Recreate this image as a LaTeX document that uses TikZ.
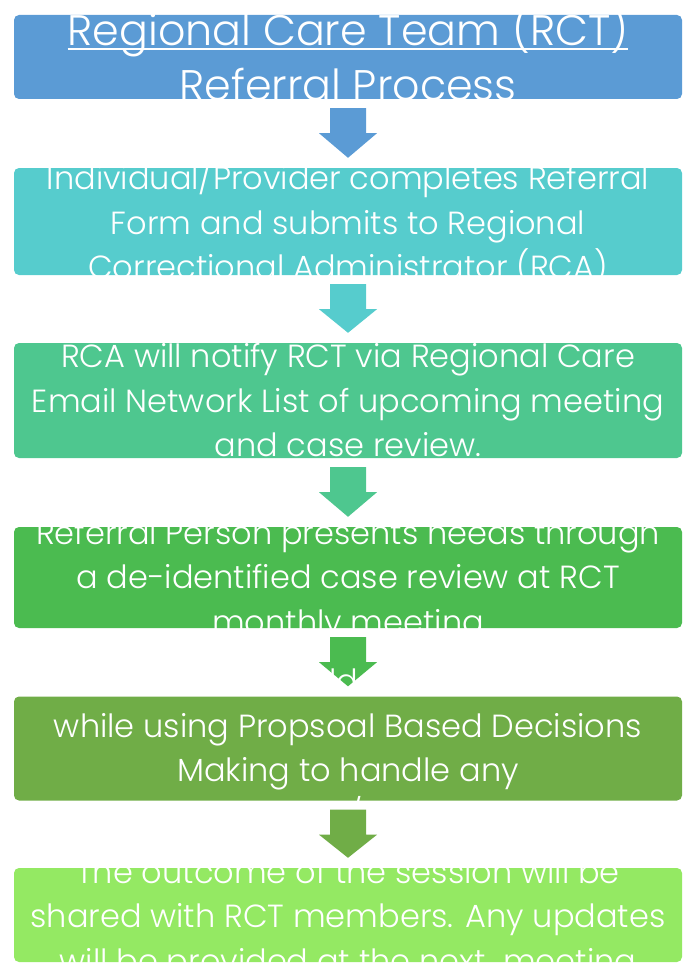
\documentclass[tikz,border=0pt]{standalone}
\usepackage{fontspec}
\setmainfont{Poppins Light}
\usetikzlibrary{calc}
\definecolor{cA}{HTML}{5B9BD5}
\definecolor{cB}{HTML}{56CCCD}
\definecolor{cC}{HTML}{4EC78F}
\definecolor{cD}{HTML}{4BBB50}
\definecolor{cE}{HTML}{70AD47}
\definecolor{cF}{HTML}{94E963}
\newcommand\titleul[1]{\setbox0\hbox{#1}\rlap{\rule[-4pt]{\wd0}{1.8pt}}\box0}
\begin{document}
\begin{tikzpicture}[x=1pt,y=-1pt,
  stepbox/.style={rounded corners=5pt, inner sep=0pt, minimum width=668pt, draw=none},
  bodytext/.style={text=white, align=center, inner sep=0pt, text depth=7pt,
    font=\fontsize{32}{44.4}\selectfont},
  titletext/.style={text=white, align=center, inner sep=0pt, text depth=8pt,
    font=\fontsize{42.8}{55}\selectfont},
  ]
\useasboundingbox (0,0) rectangle (684,963);
\newcommand\blockarrow[3]{%
  \fill[#3] ($(#1.south)+(-18,9)$) -- ($(#1.south)+(18,9)$) -- ($(#1.south)+(18,34)$)
    -- ($(#1.south)+(29,34)$) -- ($(#2.north)+(0,-10)$) -- ($(#1.south)+(-29,34)$)
    -- ($(#1.south)+(-18,34)$) -- cycle;}
% box 1
\node[stepbox, fill=cA, minimum height=84pt] (b1) at (348,57) {};
\node[titletext] (t1) at (348,57.5) {\titleul{Regional Care Team (RCT)}\\Referral Process};
% box 2
\node[stepbox, fill=cB, minimum height=107pt] (b2) at (348,221.5) {};
\blockarrow{b1}{b2}{cA}
\node[bodytext] (t2) at (348,222.5) {Individual/Provider completes Referral\\Form and submits to Regional\\Correctional Administrator (RCA)};
% box 3
\node[stepbox, fill=cC, minimum height=115pt] (b3) at (348,400.5) {};
\blockarrow{b2}{b3}{cB}
\node[bodytext] (t3) at (348,403.5) {RCA will notify RCT via Regional Care\\Email Network List of upcoming meeting\\and case review.};
% box 4
\node[stepbox, fill=cD, minimum height=101pt] (b4) at (348,577.5) {};
\blockarrow{b3}{b4}{cC}
\node[bodytext] (t4) at (348,580) {Referral Person presents needs through\\a de-identified case review at RCT\\monthly meeting};
% box 5
\node[stepbox, fill=cE, minimum height=104pt] (b5) at (348,748.5) {};
\blockarrow{b4}{b5}{cD}
\node[bodytext] (t5) at (348,751) {RCT will hold discussion\\while using Propsoal Based Decisions\\Making to handle any\\concerns/conflicts};
% box 6
\node[stepbox, fill=cF, minimum height=94pt] (b6) at (348,915) {};
\blockarrow{b5}{b6}{cE}
\node[bodytext] (t6) at (348,919) {The outcome of the session will be\\shared with RCT members. Any updates\\will be provided at the next\ \ meeting};
\end{tikzpicture}
\end{document}
